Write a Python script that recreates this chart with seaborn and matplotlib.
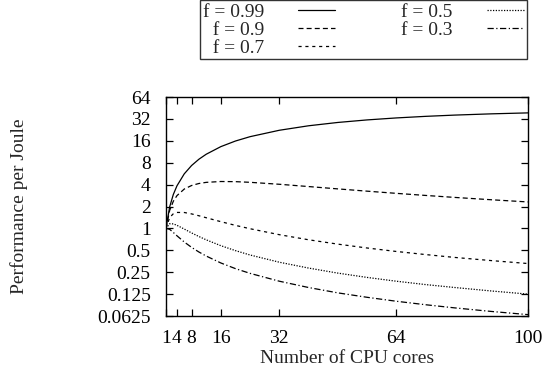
import matplotlib
matplotlib.use("Agg")
import matplotlib.pyplot as plt
import seaborn as sns
import pandas as pd
from matplotlib.lines import Line2D

# Number of CPU cores (x) and performance per joule
cores = [1, 2, 3, 4, 6, 8, 10, 12, 16, 20, 24, 32, 40, 48, 56, 64, 72, 80, 90, 100]

ppj_099 = [1.0, 1.974, 2.924, 3.849, 5.630, 7.323, 8.933, 10.466, 13.314, 15.901,
           18.253, 22.349, 25.763, 28.618, 31.012, 33.023, 34.712, 36.131, 37.584, 38.744]
ppj_09 = [1.0, 1.765, 2.358, 2.823, 3.478, 3.889, 4.144, 4.296, 4.414, 4.393,
          4.303, 4.044, 3.762, 3.494, 3.251, 3.034, 2.840, 2.667, 2.477, 2.311]
ppj_07 = [1.0, 1.411, 1.589, 1.658, 1.655, 1.583, 1.493, 1.402, 1.238, 1.101,
          0.990, 0.820, 0.698, 0.608, 0.538, 0.482, 0.437, 0.399, 0.361, 0.329]
ppj_05 = [1.0, 1.159, 1.154, 1.103, 0.980, 0.867, 0.774, 0.697, 0.579, 0.495,
          0.431, 0.343, 0.285, 0.243, 0.212, 0.188, 0.169, 0.154, 0.138, 0.125]
ppj_03 = [1.0, 0.972, 0.880, 0.792, 0.650, 0.549, 0.474, 0.417, 0.335, 0.280,
          0.241, 0.188, 0.154, 0.130, 0.113, 0.0997, 0.0893, 0.0808, 0.0722, 0.0653]

series_labels = ["f = 0.99", "f = 0.9", "f = 0.7", "f = 0.5", "f = 0.3"]
series_values = [ppj_099, ppj_09, ppj_07, ppj_05, ppj_03]

x_ticks = [1, 4, 8, 16, 32, 64, 100]
y_ticks = [0.0625, 0.125, 0.25, 0.5, 1, 2, 4, 8, 16, 32, 64]
y_tick_labels = ["0.0625", "0.125", "0.25", "0.5", "1", "2", "4", "8", "16", "32", "64"]

rows = []
for lab, vals in zip(series_labels, series_values):
    for c, v in zip(cores, vals):
        rows.append({"cores": c, "ppj": v, "f": lab})
df = pd.DataFrame(rows)

sns.set_style("ticks")
plt.rcParams["font.family"] = ["Liberation Serif", "DejaVu Serif"]
plt.rcParams["font.size"] = 14

fig = plt.figure(figsize=(5.48, 3.79), dpi=100)
ax = fig.add_axes([0.3029, 0.1662, 0.6606, 0.5778])

dash_map = {
    "f = 0.99": "",
    "f = 0.9": (4, 2.5),
    "f = 0.7": (2.5, 3),
    "f = 0.5": (1, 1.2),
    "f = 0.3": (5, 2, 1, 2),
}
sns.lineplot(data=df, x="cores", y="ppj", hue="f", style="f",
             palette=["black"] * 5, dashes=dash_map, linewidth=0.9,
             ax=ax, legend=False)

ax.set_yscale("log", base=2)
ax.set_xlim(1, 100)
ax.set_ylim(0.0625, 64)
ax.set_xticks(x_ticks)
ax.set_xticklabels([str(t) for t in x_ticks])
ax.set_yticks(y_ticks)
ax.set_yticklabels(y_tick_labels)
ax.minorticks_off()
ax.tick_params(axis="both", direction="in", length=5, width=0.9,
               top=True, right=True, labelsize=14, colors="black")
ax.tick_params(axis="y", pad=11)
ax.tick_params(axis="x", pad=10)
for s in ax.spines.values():
    s.set_linewidth(1.0)
    s.set_color("black")

ax.set_xlabel("Number of CPU cores", fontsize=14)
ax.set_ylabel("Performance per Joule", fontsize=14)
ax.xaxis.set_label_coords(0.5, -0.155)
ax.yaxis.set_label_coords(-0.38, 0.5)

handles = [Line2D([], [], color="black", linewidth=0.9,
                  linestyle=("-" if dash_map[l] == "" else (0, dash_map[l])))
           for l in series_labels]
leg_labels = ["f = 0.99", "  f = 0.9", "  f = 0.7", "f = 0.5", "f = 0.3      "]
leg = fig.legend(handles, leg_labels[:4] + ["f = 0.3"], ncol=2, markerfirst=False,
                 loc="upper left", bbox_to_anchor=(0.365, 1.0),
                 frameon=True, fancybox=False, edgecolor="black",
                 fontsize=14, handlelength=1.9, handletextpad=1.75,
                 columnspacing=3.4, labelspacing=0.02, borderpad=0.15,
                 borderaxespad=0.0)
leg.get_frame().set_linewidth(1.0)
fig.canvas.draw()
# widen the frame on the right to match the reference box
frame = leg.get_frame()
frame.set_width(frame.get_width() + 8)

fig.savefig("out.png", dpi=100)
